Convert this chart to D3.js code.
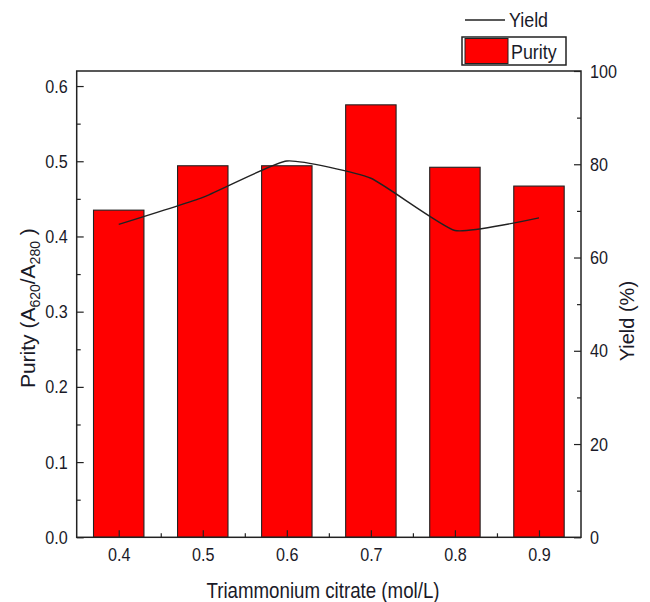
<!DOCTYPE html>
<html>
<head>
<meta charset="utf-8">
<script src="https://cdn.jsdelivr.net/npm/d3@7"></script>
<style>
  body { margin: 0; background: #fff; }
  text { font-family: "Liberation Sans", Arial, sans-serif; fill: #1a1a28; }
</style>
</head>
<body>
<script>
// data
var concentrations = [0.4, 0.5, 0.6, 0.7, 0.8, 0.9];
var purity = [0.435, 0.494, 0.494, 0.575, 0.492, 0.467];
var yieldPct = [67.1, 72.9, 80.7, 77.0, 65.8, 68.5];
var leftTicks = [0.0, 0.1, 0.2, 0.3, 0.4, 0.5, 0.6];
var rightTicks = [0, 20, 40, 60, 80, 100];

var W = 650, H = 602,
    pL = 76.7, pR = 581, pT = 71, pB = 537.3,
    narrow = 0.85;

var svg = d3.select("body").append("svg").attr("width", W).attr("height", H),
    g = svg.append("g");

var x = d3.scaleLinear().domain([0.35, 0.95]).range([pL, pR]),
    yL = d3.scaleLinear().domain([0, 0.62]).range([pB, pT]),
    yR = d3.scaleLinear().domain([0, 100]).range([pB, pT]),
    barW = x(0.41) - x(0.35);

// the original font is a condensed Arial, squeeze text horizontally
function squeeze(sel) {
    sel.each(function() {
        var len = this.getComputedTextLength();
        d3.select(this).attr("textLength", len * narrow).attr("lengthAdjust", "spacingAndGlyphs");
    });
}

// bars
g.selectAll("rect.bar").data(concentrations).enter().append("rect")
    .attr("class", "bar")
    .attr("x", function(d) { return x(d) - barW / 2; })
    .attr("y", function(d, i) { return yL(purity[i]); })
    .attr("width", barW)
    .attr("height", function(d, i) { return pB - yL(purity[i]); })
    .attr("fill", "#ff0000")
    .attr("stroke", "#222")
    .attr("stroke-width", 1.1);

// yield line
var line = d3.line()
    .x(function(d, i) { return x(concentrations[i]); })
    .y(function(d) { return yR(d); })
    .curve(d3.curveCardinal.tension(0.55));

g.append("path").datum(yieldPct)
    .attr("d", line)
    .attr("fill", "none")
    .attr("stroke", "#222")
    .attr("stroke-width", 1.4);

// axes, ticks pointing inwards
function styleAxis(sel) {
    sel.select(".domain").remove();
    sel.selectAll("line").attr("stroke", "#222").attr("stroke-width", 1.2);
    sel.selectAll("text").style("font-size", "19px").attr("fill", "#1a1a28").call(squeeze);
}

g.append("g").attr("transform", "translate(" + pL + ",0)")
    .call(d3.axisLeft(yL).tickValues(leftTicks).tickFormat(d3.format(".1f")).tickSize(-7).tickPadding(9))
    .call(styleAxis);
g.append("g").attr("transform", "translate(" + pL + ",0)")
    .call(d3.axisLeft(yL).tickValues([0.05, 0.15, 0.25, 0.35, 0.45, 0.55]).tickFormat("").tickSize(-4))
    .call(styleAxis);

g.append("g").attr("transform", "translate(" + pR + ",0)")
    .call(d3.axisRight(yR).tickValues(rightTicks).tickSize(-7).tickPadding(9))
    .call(styleAxis);
g.append("g").attr("transform", "translate(" + pR + ",0)")
    .call(d3.axisRight(yR).tickValues([10, 30, 50, 70, 90]).tickFormat("").tickSize(-4))
    .call(styleAxis);

g.append("g").attr("transform", "translate(0," + pB + ")")
    .call(d3.axisBottom(x).tickValues(concentrations).tickFormat(d3.format(".1f")).tickSize(-7).tickPadding(10))
    .call(styleAxis);
g.append("g").attr("transform", "translate(0," + pB + ")")
    .call(d3.axisBottom(x).tickValues([0.45, 0.55, 0.65, 0.75, 0.85]).tickFormat("").tickSize(-4))
    .call(styleAxis);

// frame
g.append("rect")
    .attr("x", pL).attr("y", pT)
    .attr("width", pR - pL).attr("height", pB - pT)
    .attr("fill", "none").attr("stroke", "#222").attr("stroke-width", 1.5);

// axis titles
g.append("text")
    .attr("x", 323).attr("y", 598)
    .attr("text-anchor", "middle").style("font-size", "22px")
    .text("Triammonium citrate (mol/L)")
    .call(squeeze);

var lt = g.append("text")
    .attr("transform", "translate(35," + ((pT + pB) / 2 + 4) + ") rotate(-90)")
    .attr("text-anchor", "middle").style("font-size", "21px");
lt.append("tspan").text("Purity (A");
lt.append("tspan").attr("dy", 5).style("font-size", "14px").text("620");
lt.append("tspan").attr("dy", -5).text("/A");
lt.append("tspan").attr("dy", 5).style("font-size", "14px").text("280");
lt.append("tspan").attr("dy", -5).text(" )");

g.append("text")
    .attr("transform", "translate(634," + ((pT + pB) / 2 + 17) + ") rotate(-90)")
    .attr("text-anchor", "middle").style("font-size", "20px")
    .text("Yield (%)");

// legend
var lg = g.append("g");
lg.append("line").attr("x1", 465).attr("x2", 505).attr("y1", 20).attr("y2", 20)
    .attr("stroke", "#222").attr("stroke-width", 1.4);
lg.append("text").attr("x", 509).attr("y", 27).style("font-size", "21px").text("Yield").call(squeeze);
lg.append("rect").attr("x", 462).attr("y", 37).attr("width", 104).attr("height", 28)
    .attr("fill", "#fff").attr("stroke", "#222").attr("stroke-width", 1.5);
lg.append("rect").attr("x", 465).attr("y", 38.5).attr("width", 43).attr("height", 25)
    .attr("fill", "#ff0000").attr("stroke", "#222").attr("stroke-width", 1);
lg.append("text").attr("x", 511).attr("y", 59).style("font-size", "21px").text("Purity").call(squeeze);
</script>
</body>
</html>
